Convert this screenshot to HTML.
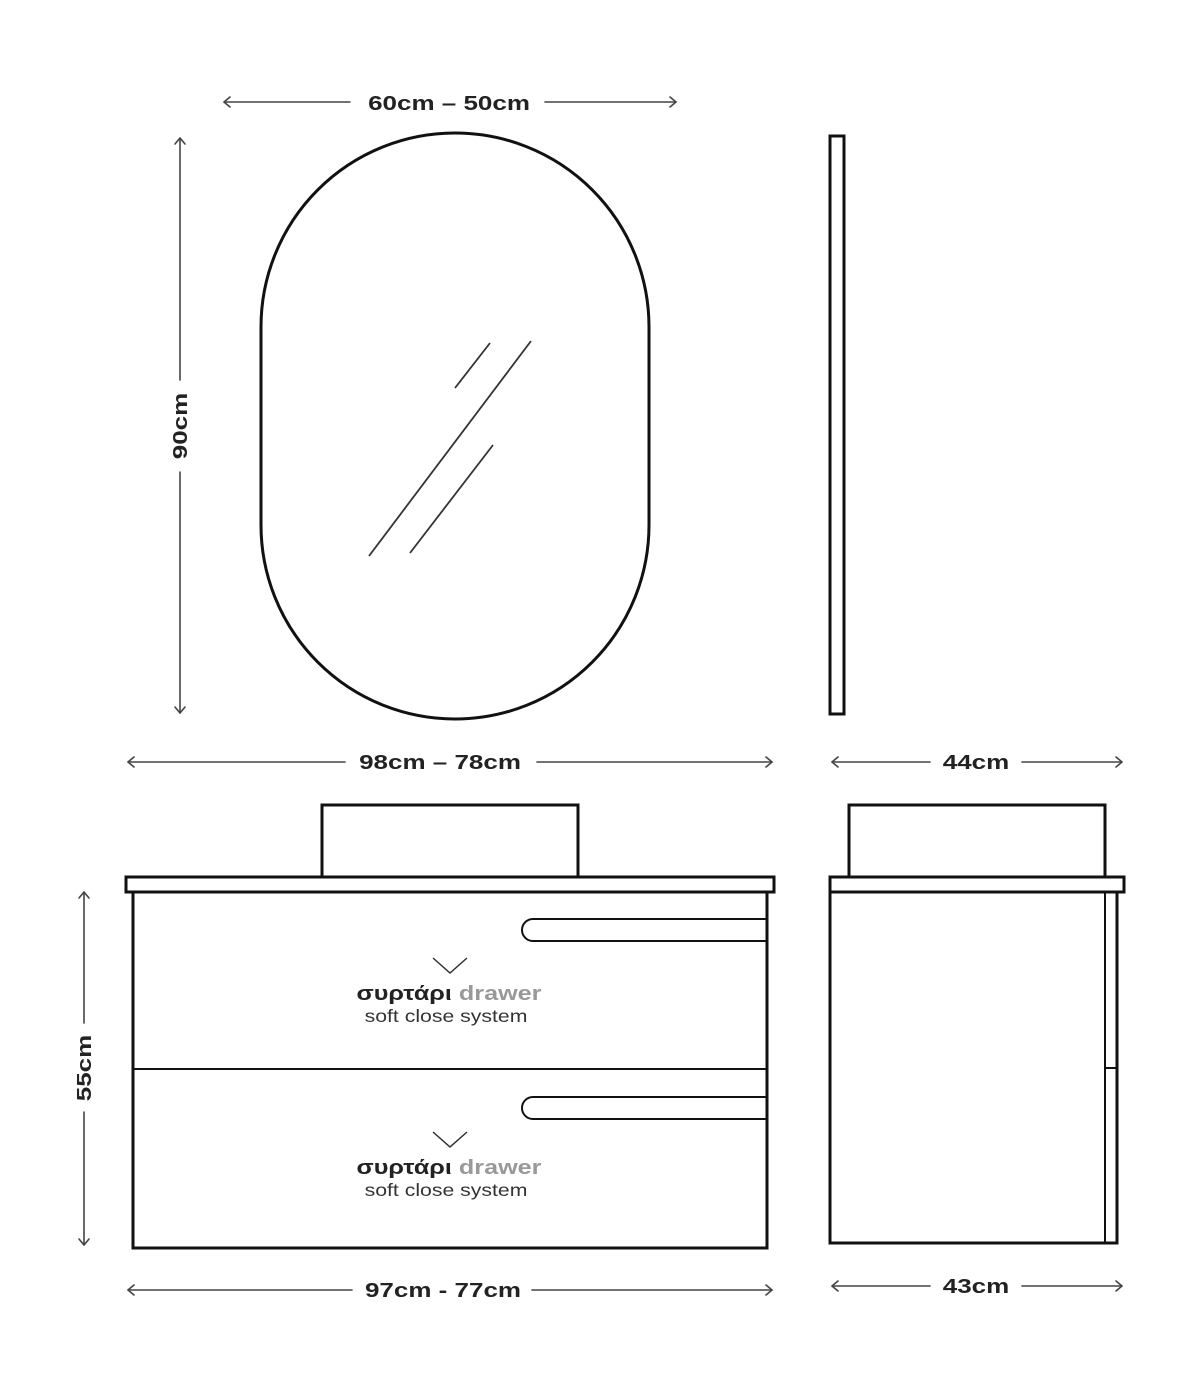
<!DOCTYPE html>
<html><head><meta charset="utf-8"><style>html,body{margin:0;padding:0;background:#fff}svg{display:block}</style></head>
<body>
<svg width="1200" height="1388" viewBox="0 0 1200 1388" xmlns="http://www.w3.org/2000/svg" font-family="Liberation Sans, DejaVu Sans, sans-serif">
<g stroke="#444" stroke-width="1.6" fill="none" stroke-linecap="round" stroke-linejoin="round">
<line x1="224" y1="102" x2="350" y2="102"/><line x1="545" y1="102" x2="676" y2="102"/>
<polyline points="230,97 224,102 230,107"/><polyline points="670,97 676,102 670,107"/>
<line x1="180" y1="138" x2="180" y2="380"/><line x1="180" y1="472" x2="180" y2="713"/>
<polyline points="175,144 180,138 185,144"/><polyline points="175,707 180,713 185,707"/>
<line x1="128" y1="762" x2="345" y2="762"/><line x1="537" y1="762" x2="772" y2="762"/>
<polyline points="134,757 128,762 134,767"/><polyline points="766,757 772,762 766,767"/>
<line x1="832" y1="762" x2="930" y2="762"/><line x1="1022" y1="762" x2="1122" y2="762"/>
<polyline points="838,757 832,762 838,767"/><polyline points="1116,757 1122,762 1116,767"/>
<line x1="84" y1="892" x2="84" y2="1023"/><line x1="84" y1="1112" x2="84" y2="1245"/>
<polyline points="79,898 84,892 89,898"/><polyline points="79,1239 84,1245 89,1239"/>
<line x1="128" y1="1290" x2="352" y2="1290"/><line x1="532" y1="1290" x2="772" y2="1290"/>
<polyline points="134,1285 128,1290 134,1295"/><polyline points="766,1285 772,1290 766,1295"/>
<line x1="832" y1="1286" x2="930" y2="1286"/><line x1="1022" y1="1286" x2="1122" y2="1286"/>
<polyline points="838,1281 832,1286 838,1291"/><polyline points="1116,1281 1122,1286 1116,1291"/>
</g>
<g font-weight="bold" font-size="20" fill="#222" text-anchor="middle">
<text transform="translate(449,110) scale(1.3,1)">60cm – 50cm</text>
<text transform="translate(440,769) scale(1.3,1)">98cm – 78cm</text>
<text transform="translate(976,769) scale(1.3,1)">44cm</text>
<text transform="translate(443,1297) scale(1.3,1)">97cm - 77cm</text>
<text transform="translate(976,1293) scale(1.3,1)">43cm</text>
<text transform="translate(187,426) rotate(-90) scale(1.3,1)">90cm</text>
<text transform="translate(91,1068) rotate(-90) scale(1.3,1)">55cm</text>
</g>
<g stroke="#111" fill="none">
<rect x="261" y="133" width="388" height="586" rx="194" ry="194" stroke-width="3"/>
<g stroke-width="1.8" stroke="#333">
<line x1="455" y1="388" x2="490" y2="343"/>
<line x1="369" y1="556" x2="531" y2="341"/>
<line x1="410" y1="553" x2="493" y2="445"/>
</g>
<rect x="830" y="136" width="14" height="578" stroke-width="3"/>
<rect x="322" y="805" width="256" height="72" stroke-width="3"/>
<rect x="126" y="877" width="648" height="15" stroke-width="3"/>
<rect x="133" y="892" width="634" height="356" stroke-width="3"/>
<line x1="133" y1="1069" x2="767" y2="1069" stroke-width="2"/>
<path d="M767,919 H533 A11,11 0 0 0 533,941 H767" stroke-width="2"/>
<path d="M767,1097 H533 A11,11 0 0 0 533,1119 H767" stroke-width="2"/>
<g stroke-width="1.5" stroke="#333">
<polyline points="433,958 450,973 467,958"/>
<polyline points="433,1132 450,1147 467,1132"/>
</g>
<rect x="849" y="805" width="256" height="72" stroke-width="3"/>
<rect x="830" y="877" width="294" height="15" stroke-width="3"/>
<rect x="830" y="892" width="287" height="351" stroke-width="3"/>
<line x1="1105" y1="892" x2="1105" y2="1243" stroke-width="2"/>
<line x1="1105" y1="1068" x2="1117" y2="1068" stroke-width="2"/>
</g>
<g text-anchor="middle">
<text transform="translate(449,1000) scale(1.26,1)" font-size="20"><tspan font-weight="bold" fill="#222">συρτάρι</tspan> <tspan font-weight="bold" fill="#999">drawer</tspan></text>
<text transform="translate(446,1022) scale(1.18,1)" font-size="18" fill="#333">soft close system</text>
<text transform="translate(449,1174) scale(1.26,1)" font-size="20"><tspan font-weight="bold" fill="#222">συρτάρι</tspan> <tspan font-weight="bold" fill="#999">drawer</tspan></text>
<text transform="translate(446,1196) scale(1.18,1)" font-size="18" fill="#333">soft close system</text>
</g>
</svg>
</body></html>
